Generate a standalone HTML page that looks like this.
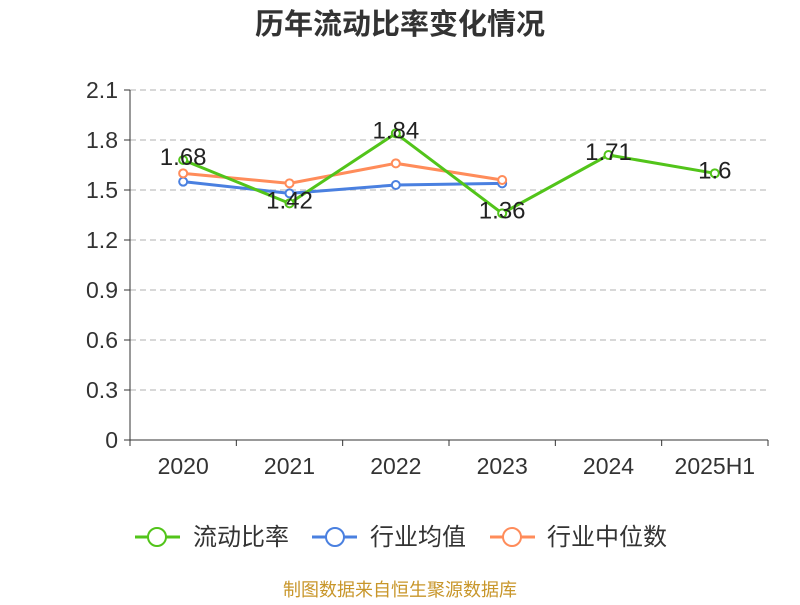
<!DOCTYPE html>
<html><head><meta charset="utf-8"><style>
body{margin:0;background:#fff;}
svg text{font-family:"Liberation Sans","Noto Sans CJK SC",sans-serif;}
</style></head><body>
<svg id="c" width="800" height="600" xmlns="http://www.w3.org/2000/svg">
<text x="400" y="34" text-anchor="middle" font-size="29" font-weight="bold" fill="#333">历年流动比率变化情况</text>
<g id="grid"></g><g id="axes"></g><g id="series"></g>
<g>
<g><line x1="135" y1="537" x2="180" y2="537" stroke="#52c41a" stroke-width="3"/><circle cx="157" cy="537" r="9" fill="#fff" stroke="#52c41a" stroke-width="2"/><text x="193" y="545" font-size="24" fill="#333">流动比率</text></g>
<g><line x1="312" y1="537" x2="357" y2="537" stroke="#4a80e0" stroke-width="3"/><circle cx="335" cy="537" r="9" fill="#fff" stroke="#4a80e0" stroke-width="2"/><text x="370" y="545" font-size="24" fill="#333">行业均值</text></g>
<g><line x1="490" y1="537" x2="535" y2="537" stroke="#ff8c5a" stroke-width="3"/><circle cx="512" cy="537" r="9" fill="#fff" stroke="#ff8c5a" stroke-width="2"/><text x="547" y="545" font-size="24" fill="#333">行业中位数</text></g>
</g>
<text x="400" y="596" text-anchor="middle" font-size="18" fill="#c8962a">制图数据来自恒生聚源数据库</text>
</svg>
<script>
const categories=["2020","2021","2022","2023","2024","2025H1"];
const ratioValues=[1.68,1.42,1.84,1.36,1.71,1.6];
const ratioLabels=["1.68","1.42","1.84","1.36","1.71","1.6"];
const avgValues=[1.55,1.48,1.53,1.54];
const medianValues=[1.60,1.54,1.66,1.56];
const yTicks=[0,0.3,0.6,0.9,1.2,1.5,1.8,2.1];
const tickLabels=["0","0.3","0.6","0.9","1.2","1.5","1.8","2.1"];
const NS="http://www.w3.org/2000/svg";
const X0=130,X1=768,Y0=440,Y1=90,YMAX=2.1;
const bw=(X1-X0)/categories.length;
const xs=i=>X0+bw*(i+0.5);
const ys=v=>Y0-(v/YMAX)*(Y0-Y1);
function mk(t,a,p){const e=document.createElementNS(NS,t);for(const k in a)e.setAttribute(k,a[k]);p.appendChild(e);return e;}
const grid=document.getElementById('grid'),axes=document.getElementById('axes'),ser=document.getElementById('series');
yTicks.forEach((v,i)=>{
 if(v>0){const l=mk('line',{x1:X0,x2:X1,y1:ys(v),y2:ys(v),stroke:'#ccc','stroke-dasharray':'6,4','stroke-width':1.5},grid);
 }
 mk('line',{x1:X0-6,x2:X0,y1:ys(v),y2:ys(v),stroke:'#333'},axes);
 const t=mk('text',{x:X0-12,y:ys(v)+8,'text-anchor':'end','font-size':23,fill:'#333'},axes);t.textContent=tickLabels[i];
 
});
mk('line',{x1:X0,x2:X0,y1:Y1,y2:Y0,stroke:'#333'},axes);
mk('line',{x1:X0,x2:X1,y1:Y0,y2:Y0,stroke:'#333'},axes);
for(let i=0;i<=categories.length;i++)mk('line',{x1:X0+bw*i,x2:X0+bw*i,y1:Y0,y2:Y0+6,stroke:'#333'},axes);
categories.forEach((c,i)=>{const t=mk('text',{x:xs(i),y:474,'text-anchor':'middle','font-size':23,fill:'#333'},axes);t.textContent=c;
 });
function line(vals,color,name){
 const g=mk('g',{},ser);
 mk('polyline',{points:vals.map((v,i)=>xs(i)+','+ys(v)).join(' '),fill:'none',stroke:color,'stroke-width':3},g);
 vals.forEach((v,i)=>{const c=mk('circle',{cx:xs(i),cy:ys(v),r:4,fill:'#fff',stroke:color,'stroke-width':2},g);
  });
 return g;
}
line(avgValues,'#4a80e0','industry-average-line');
line(medianValues,'#ff8c5a','industry-median-line');
const g=line(ratioValues,'#52c41a','current-ratio-line');
ratioValues.forEach((v,i)=>{const t=mk('text',{x:xs(i),y:ys(v)+5,'text-anchor':'middle','font-size':24,fill:'#222'},g);t.textContent=ratioLabels[i];
 });
</script>
</body></html>
